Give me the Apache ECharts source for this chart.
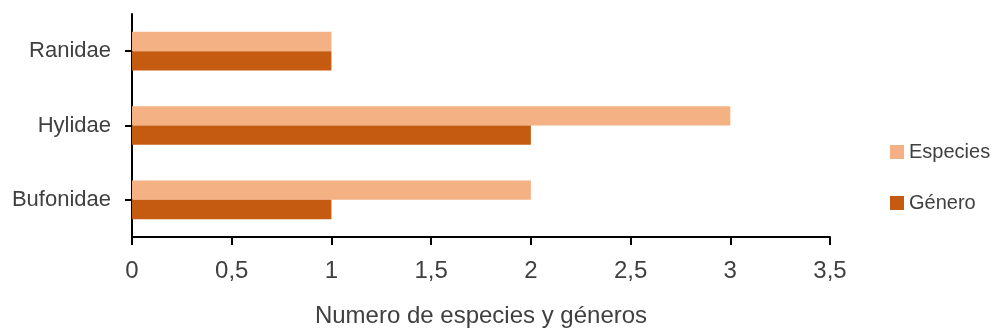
<!DOCTYPE html>
<html><head><meta charset="utf-8">
<script src="https://cdn.jsdelivr.net/npm/echarts@6/dist/echarts.min.js"></script>
<style>html,body{margin:0;padding:0;background:#fff}#c{width:997px;height:333px}</style>
</head><body><div id="c"></div>
<script>
const categories = ['Bufonidae', 'Hylidae', 'Ranidae'];
const especies = [2, 3, 1];
const genero = [1, 2, 1];
const xTicks = ['0', '0,5', '1', '1,5', '2', '2,5', '3', '3,5'];
const FONT = '"Liberation Sans Narrow", "Arial Narrow", "Liberation Sans", Arial, sans-serif';
const chart = echarts.init(document.getElementById('c'));
chart.setOption({
  animation: false,
  grid: { left: 132, right: 167, top: 14, bottom: 96, containLabel: false },
  legend: {
    orient: 'vertical', left: 885, top: 137, itemGap: 31,
    itemWidth: 14, itemHeight: 14, icon: 'rect',
    data: ['Especies', 'Género'],
    textStyle: { fontFamily: FONT, fontSize: 20, color: '#404040' }
  },
  xAxis: {
    type: 'value', min: 0, max: 3.5, interval: 0.5,
    name: 'Numero de especies y géneros', nameLocation: 'middle', nameGap: 67,
    nameTextStyle: { fontFamily: FONT, fontSize: 24, color: '#404040' },
    axisLine: { show: true, lineStyle: { color: '#000', width: 2 } },
    axisTick: { show: true, length: 8, lineStyle: { color: '#000', width: 2 } },
    splitLine: { show: false },
    axisLabel: { fontFamily: FONT, fontSize: 24, color: '#404040', margin: 22,
      formatter: (v) => xTicks[Math.round(v * 2)] }
  },
  yAxis: {
    type: 'category', data: categories,
    axisLine: { show: true, lineStyle: { color: '#000', width: 2 } },
    axisTick: { show: true, alignWithLabel: true, length: 7, lineStyle: { color: '#000', width: 2 } },
    axisLabel: { fontFamily: FONT, fontSize: 22, color: '#404040', margin: 21 }
  },
  series: [
    { name: 'Especies', type: 'bar', data: especies, barGap: '0%', barCategoryGap: '48%',
      itemStyle: { color: '#F4B183' } },
    { name: 'Género', type: 'bar', data: genero, barGap: '0%', barCategoryGap: '48%',
      itemStyle: { color: '#C55A11' } }
  ]
});
</script></body></html>
